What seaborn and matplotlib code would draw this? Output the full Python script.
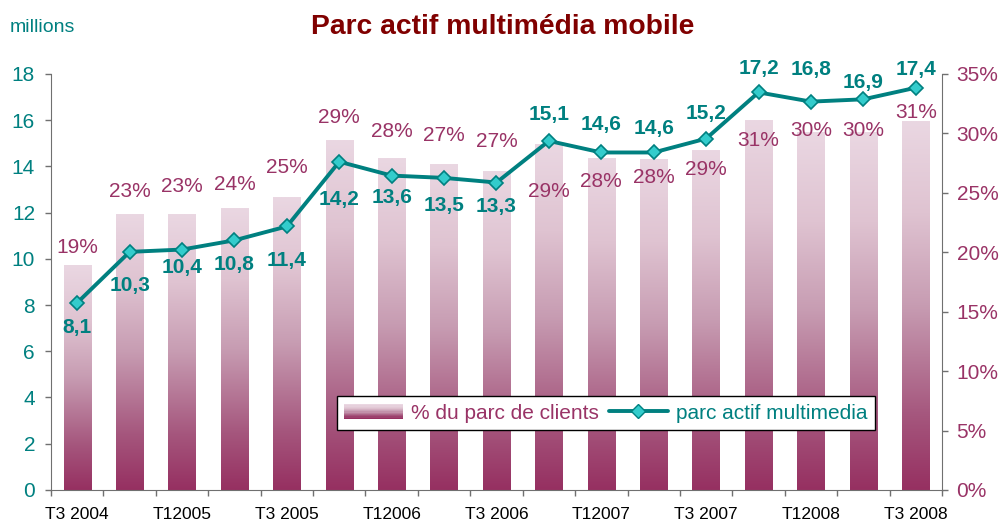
import numpy as np
import pandas as pd
import matplotlib.pyplot as plt
import seaborn as sns
from matplotlib.colors import LinearSegmentedColormap
from matplotlib.legend_handler import HandlerBase
from matplotlib.patches import Rectangle, Patch
from matplotlib.lines import Line2D
from matplotlib.ticker import FixedLocator

# data
quarters = ["T3 2004", "T4 2004", "T12005", "T2 2005", "T3 2005", "T4 2005",
            "T12006", "T2 2006", "T3 2006", "T4 2006", "T12007", "T2 2007",
            "T3 2007", "T4 2007", "T12008", "T2 2008", "T3 2008"]
pct_share = [18.9, 23.2, 23.2, 23.7, 24.6, 29.4, 27.9, 27.4, 26.8,
             29.1, 27.9, 27.8, 28.6, 31.1, 30.1, 30.1, 31.0]
parc_millions = [8.1, 10.3, 10.4, 10.8, 11.4, 14.2, 13.6, 13.5, 13.3,
                 15.1, 14.6, 14.6, 15.2, 17.2, 16.8, 16.9, 17.4]
shown_ticks = ["T3 2004", "T12005", "T3 2005", "T12006", "T3 2006",
               "T12007", "T3 2007", "T12008", "T3 2008"]

# label offsets (pixels above the mark, negative = below)
pct_label_dy = [18, 23, 28, 24, 30, 23, 27, 29, 30, -47, -23, -18, -20, -20, 2, 2, 9]
val_label_dy = [-25, -34, -18, -24, -34, -38, -22, -28, -24, 26, 28, 24, 25, 24, 32, 17, 18]

teal = "#008080"
plum = "#993366"
spine_col = "#707070"

sns.set_style("ticks")
plt.rcParams['font.family'] = ['Liberation Sans', 'DejaVu Sans']

bar_cmap = LinearSegmentedColormap.from_list(
    "bars", [(0.0, "#963061"), (0.2, "#A5567D"), (0.5, "#C79CB2"),
             (0.75, "#DFC3D1"), (1.0, "#EAD7E2")])


class GradientHandler(HandlerBase):
    def create_artists(self, legend, orig_handle, xdescent, ydescent,
                       width, height, fontsize, trans):
        n = 12
        arts = []
        for i in range(n):
            r = Rectangle((-xdescent, -ydescent + height * i / n), width, height / n + 0.1,
                          facecolor=bar_cmap(i / (n - 1)), edgecolor='none', transform=trans)
            arts.append(r)
        return arts


df = pd.DataFrame({"trimestre": quarters, "pct": pct_share, "parc": parc_millions})

fig = plt.figure(figsize=(10.01, 5.24), dpi=100)
ax = fig.add_axes([0.051, 0.065, 0.890, 0.794])
ax2 = ax.twinx()

# bars (percent, right axis)
sns.barplot(data=df, x="trimestre", y="pct", ax=ax2, width=0.52,
            color=plum, saturation=1)
grad = np.linspace(0, 1, 256).reshape(-1, 1)
for p in list(ax2.patches):
    x0, y0, w, h = p.get_x(), p.get_y(), p.get_width(), p.get_height()
    ax2.imshow(grad, extent=[x0, x0 + w, y0, y0 + h], origin='lower',
               cmap=bar_cmap, aspect='auto', zorder=1)
    p.set_visible(False)

for i, (v, dy) in enumerate(zip(pct_share, pct_label_dy)):
    ax2.annotate(f"{v:.0f}%", (i, v), xytext=(0, dy * 0.72), textcoords='offset points',
                 ha='center', va='center', color=plum, fontsize=15)

# line (millions, left axis)
sns.lineplot(x=df.index, y=df["parc"], ax=ax, color=teal, linewidth=2.8,
             marker='D', markersize=7.5, markerfacecolor="#33CCCC",
             markeredgecolor=teal, markeredgewidth=1.2)
for i, (v, dy) in enumerate(zip(parc_millions, val_label_dy)):
    ax.annotate(f"{v:.1f}".replace(".", ","), (i, v), xytext=(0, dy * 0.72),
                textcoords='offset points', ha='center', va='center',
                color=teal, fontsize=15, fontweight='bold')

ax.set_zorder(ax2.get_zorder() + 1)
ax.patch.set_visible(False)

# axes
ax.set_xlim(-0.5, len(quarters) - 0.5)
ax.set_ylim(0, 18)
ax2.set_ylim(0, 35)
ax.set_yticks(range(0, 19, 2))
ax2.set_yticks(range(0, 36, 5))
ax2.yaxis.set_major_formatter(lambda v, pos: f"{v:.0f}%")
ax.set_xlabel("")
ax.set_ylabel("")
ax2.set_xlabel("")
ax2.set_ylabel("")

ax.set_xticks(np.arange(-0.5, len(quarters), 1))
ax.set_xticklabels([])
ax.xaxis.set_minor_locator(FixedLocator(np.arange(0, len(quarters), 2)))
ax.set_xticklabels(shown_ticks, minor=True)
ax.tick_params(axis='x', which='major', direction='out', length=4.5, width=1, color=spine_col)
ax.tick_params(axis='x', which='minor', length=0, pad=12, labelsize=12.5, labelcolor='black')
ax.tick_params(axis='y', direction='out', length=4.5, width=1, color=spine_col,
               labelcolor=teal, labelsize=15, pad=7)
ax2.tick_params(axis='y', direction='out', length=4.5, width=1, color=spine_col,
                labelcolor=plum, labelsize=15, pad=6)

for s in ["top", "right"]:
    ax.spines[s].set_visible(False)
for s in ["top", "left", "bottom"]:
    ax2.spines[s].set_visible(False)
ax.spines["left"].set_color(spine_col)
ax.spines["bottom"].set_color(spine_col)
ax2.spines["right"].set_color(spine_col)

# legend
handles = [Patch(), Line2D([], [], color=teal, linewidth=2.8, marker='D', markersize=7.5,
                           markerfacecolor="#33CCCC", markeredgecolor=teal)]
leg = ax.legend(handles, ["% du parc de clients", "parc actif multimedia"],
                handler_map={Patch: GradientHandler()}, ncol=2,
                loc='lower left', bbox_to_anchor=(0.321, 0.144), borderaxespad=0,
                fontsize=15, handlelength=2.8, handletextpad=0.4, columnspacing=0.5,
                fancybox=False, framealpha=1, edgecolor='black', borderpad=0.35)
leg.get_frame().set_linewidth(1)
leg.get_texts()[0].set_color(plum)
leg.get_texts()[1].set_color(teal)

fig.text(10 / 1001, 1 - 27 / 524, "millions", color=teal, fontsize=14, ha='left', va='center')
fig.text(0.502, 1 - 27 / 524, "Parc actif multimédia mobile", color="#800000",
         fontsize=20.3, fontweight='bold', ha='center', va='center')

fig.savefig("out.png", dpi=100)
